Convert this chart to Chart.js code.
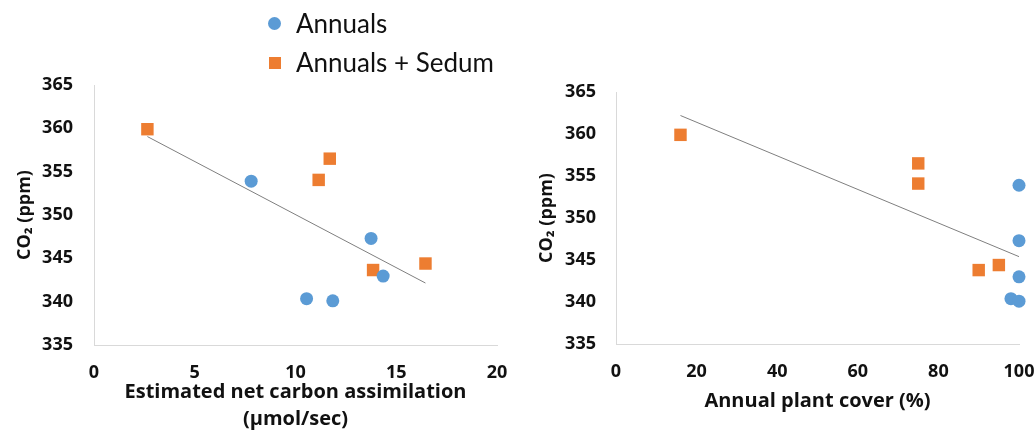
<!DOCTYPE html>
<html>
<head>
<meta charset="utf-8">
<script src="https://cdn.jsdelivr.net/npm/chart.js@4"></script>
<style>
  body { margin: 0; background: #fff; overflow: hidden; }
  #wrap { position: relative; width: 1035px; height: 433px; }
  .box { position: absolute; top: 0; height: 433px; }
  #legend { position: absolute; left: 268px; top: 4px; font-family: Lato, sans-serif; font-size: 26px; color: #111; }
  #legend div { height: 39px; line-height: 39px; position: relative; padding-left: 28px; white-space: nowrap; }
  .dot { position: absolute; left: 0; top: 13px; width: 13px; height: 13px; border-radius: 50%; background: #5B9BD5; }
  .sq { position: absolute; left: 1px; top: 14px; width: 12px; height: 12px; background: #ED7D31; }
</style>
</head>
<body>
<div id="wrap">
  <div class="box" style="left:0;width:515px"><canvas id="left"></canvas></div>
  <div class="box" style="left:515px;width:520px"><canvas id="right"></canvas></div>
  <div id="legend">
    <div><span class="dot"></span>Annuals</div>
    <div><span class="sq"></span>Annuals + Sedum</div>
  </div>
</div>
<script>
// carbon assimilation (umol/sec) vs CO2 (ppm)
var annualsAssim = [7.8, 13.75, 14.35, 10.55, 11.85];
var annualsCO2a = [353.9, 347.3, 342.95, 340.35, 340.1];
var sedumAssim = [2.65, 11.15, 11.7, 13.85, 16.45];
var sedumCO2a = [359.9, 354.05, 356.5, 343.65, 344.4];
var trendAssimX = [2.65, 16.45];
var trendAssimY = [359.05, 342.15];

// annual plant cover (%) vs CO2 (ppm)
var annualsCover = [100, 100, 100, 98, 100];
var annualsCO2b = [353.9, 347.3, 343.0, 340.4, 340.1];
var sedumCover = [16, 75, 75, 90, 95];
var sedumCO2b = [359.9, 356.5, 354.1, 343.8, 344.4];
var trendCoverX = [16, 100];
var trendCoverY = [362.2, 345.4];

var yTicks = [335, 340, 345, 350, 355, 360, 365];

var FONT = "'Open Sans', sans-serif";

function pts(xs, ys) {
    return xs.map((x, i) => ({ x: x, y: ys[i] }));
}

// cfg holds the per-chart layout numbers (axis widths, padding)
function makeChart(id, ax, ay, sx, sy, tx, ty, xMax, xStep, xTitle, cfg) {
    var ctx = document.getElementById(id).getContext('2d');
    return new Chart(ctx, {
        type: 'scatter',
        data: {
            datasets: [{
                label: 'Annuals',
                data: pts(ax, ay),
                backgroundColor: '#5B9BD5',
                borderWidth: 0,
                pointStyle: 'circle',
                pointRadius: 6.5,
                clip: false
            }, {
                label: 'Annuals + Sedum',
                data: pts(sx, sy),
                backgroundColor: '#ED7D31',
                borderWidth: 0,
                pointStyle: 'rect',
                pointRadius: 8.8,
                clip: false
            }, {
                label: 'trend',
                data: pts(tx, ty),
                showLine: true,
                borderColor: '#7f7f7f',
                borderWidth: 1,
                pointRadius: 0,
                clip: false
            }]
        },
        options: {
            responsive: false,
            animation: false,
            events: [],
            layout: { padding: { left: 0, top: cfg.top, right: cfg.right, bottom: 0 } },
            plugins: { legend: { display: false }, tooltip: { enabled: false } },
            scales: {
                x: {
                    type: 'linear', min: 0, max: xMax,
                    afterFit: (s) => { s.height = cfg.xh; s.paddingLeft = 0; s.paddingRight = 0; },
                    ticks: { stepSize: xStep, padding: 17, color: '#111', font: { family: FONT, size: 18, weight: 'bold' } },
                    grid: { display: false, drawTicks: false },
                    border: { color: '#d9d9d9', width: 1 },
                    title: { display: true, text: xTitle, color: '#111', padding: { top: 0, bottom: cfg.xtpad }, font: { family: FONT, size: 20, weight: 'bold', lineHeight: 1.35 } }
                },
                y: {
                    min: 335, max: 365,
                    afterBuildTicks: (s) => { s.ticks = yTicks.map(v => ({ value: v })); },
                    afterFit: (s) => { s.width = cfg.yw; s.paddingTop = 0; s.paddingBottom = 0; },
                    ticks: { padding: cfg.tickpad, color: '#111', font: { family: FONT, size: 18, weight: 'bold' } },
                    grid: { display: false, drawTicks: false },
                    border: { color: '#d9d9d9', width: 1 },
                    title: { display: true, text: 'CO₂ (ppm)', color: '#111', padding: { top: cfg.ytpad, bottom: 0 }, font: { family: FONT, size: 18, weight: 'bold', lineHeight: 1.2 } }
                }
            }
        }
    });
}

document.getElementById('left').width = 515;
document.getElementById('left').height = 433;
document.getElementById('right').width = 520;
document.getElementById('right').height = 433;

makeChart('left', annualsAssim, annualsCO2a, sedumAssim, sedumCO2a, trendAssimX, trendAssimY,
    20, 5, ['Estimated net carbon assimilation', '(µmol/sec)'],
    { top: 85, right: 18, xh: 88, xtpad: 0, yw: 94, tickpad: 21, ytpad: 14 });
makeChart('right', annualsCover, annualsCO2b, sedumCover, sedumCO2b, trendCoverX, trendCoverY,
    100, 20, 'Annual plant cover (%)',
    { top: 92, right: 16, xh: 89, xtpad: 18, yw: 101, tickpad: 20, ytpad: 21 });
</script>
</body>
</html>
